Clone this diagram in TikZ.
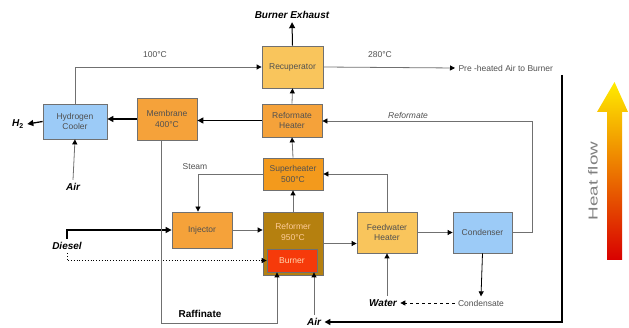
\documentclass[tikz,border=0pt]{standalone}
\usepackage{fontspec}
\setmainfont{Liberation Sans}
\usetikzlibrary{arrows.meta,calc}
\definecolor{ltorange}{HTML}{F9C55C}
\definecolor{midorange}{HTML}{F5A23A}
\definecolor{deeporange}{HTML}{F39A1C}
\definecolor{reformbrown}{HTML}{B5800F}
\definecolor{burnred}{HTML}{F63A0A}
\definecolor{coolblue}{HTML}{9CCBF7}
\definecolor{linegray}{HTML}{707070}
\definecolor{textgray}{HTML}{505050}
\begin{document}
\begin{tikzpicture}[x=1pt,y=-1pt,
  box/.style={draw=linegray,line width=0.8pt,align=center,font=\fontsize{8.5}{10.5}\selectfont,text=textgray,inner sep=1pt},
  ln/.style={draw=linegray,line width=0.8pt,-{Triangle[length=5pt,width=5pt,color=black]}},
  bk/.style={black,line width=1.3pt,-{Triangle[length=6pt,width=6pt]}},
  lab/.style={font=\fontsize{8.5}{10.5}\selectfont,text=textgray},
  blab/.style={font=\fontsize{10}{12}\selectfont\bfseries\itshape}]
\useasboundingbox (0,0) rectangle (629,328);
% boxes
\node[box,fill=ltorange,minimum width=61,minimum height=42] (rec) at (292.5,67) {Recuperator};
\node[box,fill=midorange,minimum width=60,minimum height=33] (rfh) at (292,120.5) {Reformate\\Heater};
\node[box,fill=midorange,minimum width=60,minimum height=42] (mem) at (167,119) {Membrane\\400°C};
\node[box,fill=coolblue,minimum width=64,minimum height=35] (hc) at (75,121.5) {Hydrogen\\Cooler};
\node[box,fill=deeporange,minimum width=60,minimum height=32] (sh) at (293,174) {Superheater\\500°C};
\node[box,fill=reformbrown,minimum width=60,minimum height=63] (ref) at (293,243.5) {};
\node[lab,align=center,text=orange!40!white] (reflab) at (293,232) {Reformer\\950°C};
\node[box,fill=burnred,minimum width=50,minimum height=23,text=orange!30!white] (bur) at (292,260.5) {Burner};
\node[box,fill=midorange,minimum width=60,minimum height=36] (inj) at (202,230) {Injector};
\node[box,fill=ltorange,minimum width=60,minimum height=41] (fwh) at (387,232.5) {Feedwater\\Heater};
\node[box,fill=coolblue,minimum width=59,minimum height=41] (con) at (482.5,232.5) {Condenser};
% labels
\node[blab] (exh) at (292,15) {Burner Exhaust};
\node[blab] (h2) at (18,124) {H$_\mathbf{2}$};
\node[blab] (air1) at (73,187) {Air};
\node[blab] (air2) at (314,322) {Air};
\node[blab] (diesel) at (67,246) {Diesel};
\node[blab] (water) at (383,303) {Water};
\node[lab] (cond) at (481,303) {Condensate};
\node[lab,anchor=west] (phair) at (455,68) {Pre -heated Air to Burner};
\node[lab] (t100) at (155,55) {100°C};
\node[lab] (t280) at (380,55) {280°C};
\node[lab] (steam) at (195,167) {Steam};
\node[font=\fontsize{10}{12}\selectfont\bfseries] (raff) at (200,314) {Raffinate};
\node[font=\fontsize{8.5}{10.5}\selectfont\itshape,text=textgray] (rfmlab) at (408,115) {Reformate};
\coordinate (rfm) at (532,121);
\coordinate (rafb) at (277,323);
\coordinate (ph) at (562,75);
% connectors
\draw[ln] (hc.north) |- (rec.west);
\draw[ln] (rec.east) -- (phair.west);
\draw[bk,line width=1pt] (rec.north) -- (exh.south);
\draw[ln] (rfh.north) -- (rec.south);
\draw[ln] (sh.north) -- (rfh.south);
\draw[ln] (ref.north) -- (sh.south);
\draw[bk] (rfh.west) -- (rfh.west -| mem.east);
\draw[bk] (mem.west) -- (mem.west -| hc.east);
\draw[bk] (hc.west) -- (h2.east);
\draw[ln] (air1.north) -- (hc.south);
\draw[ln] (sh.west) -| ([xshift=-4]inj.north);
\draw[ln] (inj.east) -- (inj.east -| ref.west);
\draw[bk] (diesel.north) |- (inj.west);
\draw[ln,dotted,draw=black] (diesel.south) |- (bur.west);
\draw[ln] ([xshift=-6]mem.south) |- (rafb) -- (rafb |- bur.south);
\draw[ln] (air2.north) -- (air2.north |- bur.south);
\draw[bk,line width=1.6pt] (ph) |- (air2.east);
\draw[ln] (ref.east) -- (ref.east -| fwh.west);
\draw[ln] (fwh.east) -- (fwh.east -| con.west);
\draw[ln] (fwh.north) |- (sh.east);
\draw[ln] (water.north -| fwh.south) -- (fwh.south);
\draw[ln,dashed,draw=black] (cond.west) -- (water.east);
\draw[ln,draw=black] (con.south) -- (cond.north);
\draw[ln] (con.east) -| (rfm) -- (rfm -| rfh.east);
% heat flow arrow
\shade[top color=yellow!85!orange,middle color=orange!90!red,bottom color=red!85!black]
  (607,260) -- (622,260) -- (622,112) -- (628,112) -- (614.5,82) -- (597,112) -- (607,112) -- cycle;
\node[rotate=90,text=gray,font=\fontsize{13}{15}\selectfont] (heat) at (593,181) {\scalebox{1.45}[1]{Heat flow}};
\end{tikzpicture}
\end{document}
